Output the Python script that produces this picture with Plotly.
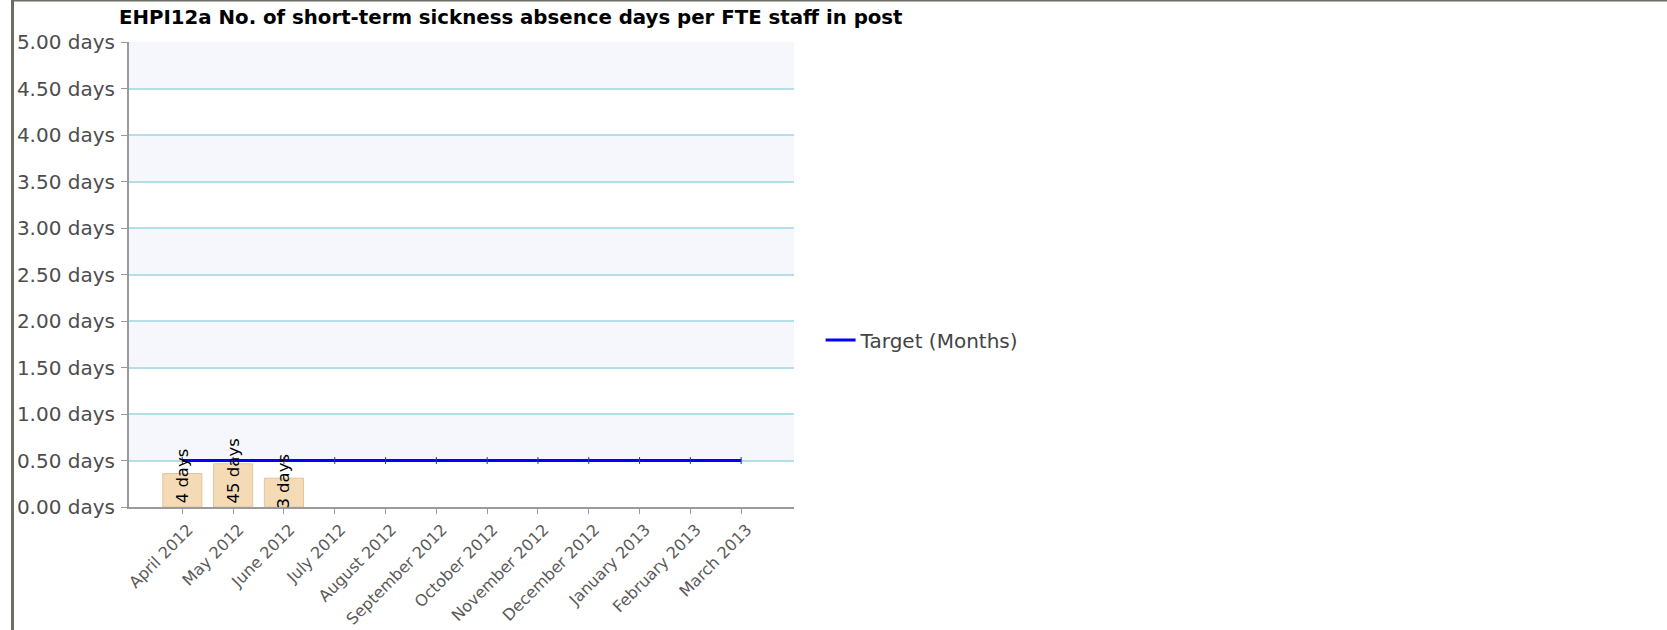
import plotly.graph_objects as go

months = ["April 2012", "May 2012", "June 2012", "July 2012", "August 2012",
          "September 2012", "October 2012", "November 2012", "December 2012",
          "January 2013", "February 2013", "March 2013"]
actual_days = [0.36, 0.465, 0.31, None, None, None, None, None, None, None, None, None]
actual_labels = ["4 days", "45 days", "3 days"]
target_days = [0.5] * 12
y_ticks = [0, 0.5, 1, 1.5, 2, 2.5, 3, 3.5, 4, 4.5, 5]
y_tick_text = ["%.2f days" % v for v in y_ticks]
title_text = "EHPI12a No. of short-term sickness absence days per FTE staff in post"

FONT = "DejaVu Sans"

fig = go.Figure()
fig.add_trace(go.Bar(
    x=months, y=actual_days, width=0.77,
    marker=dict(color="#f4dbb6", line=dict(color="#e3c69c", width=1)),
    showlegend=False, hoverinfo="x+y",
))
fig.add_trace(go.Scatter(
    x=months, y=target_days, mode="lines", name="Target (Months)",
    line=dict(color="#0000ff", width=3),
))
fig.add_trace(go.Scatter(
    x=months, y=target_days, mode="markers", showlegend=False, hoverinfo="skip",
    marker=dict(symbol="line-ns-open", size=5, color="#3030c0", line=dict(width=1, color="#3030c0")),
))

# alternating bands
shapes = []
for i in range(0, len(y_ticks) - 1):
    if i % 2 == 1:
        shapes.append(dict(type="rect", xref="paper", yref="y", x0=0, x1=1,
                           y0=y_ticks[i], y1=y_ticks[i + 1],
                           fillcolor="#f6f7fc", line=dict(width=0), layer="below"))
# frame borders
shapes.append(dict(type="line", xref="paper", yref="paper",
                   x0=(12.5 - 129) / 665, x1=(12.5 - 129) / 665, y0=-123 / 465, y1=(465 + 42) / 465,
                   line=dict(color="#6e6d62", width=3)))
shapes.append(dict(type="line", xref="paper", yref="paper",
                   x0=(11 - 129) / 665, x1=(1667 - 129) / 665, y0=(465 + 41.5) / 465, y1=(465 + 41.5) / 465,
                   line=dict(color="#6e6d62", width=2)))

annotations = []
for m, v, t in zip(months, actual_days, actual_labels):
    annotations.append(dict(x=m, y=v, xref="x", yref="y", text=t, textangle=-90,
                            showarrow=False, yanchor="top", yshift=27,
                            font=dict(family=FONT, size=16.5, color="#000000")))

fig.update_layout(
    width=1667, height=630,
    margin=dict(l=129, r=873, t=42, b=123, autoexpand=False),
    paper_bgcolor="#ffffff", plot_bgcolor="#ffffff",
    font=dict(family=FONT, size=18, color="#555555"),
    title=dict(text="<b>" + title_text + "</b>", xref="container", x=119 / 1667, xanchor="left",
               yref="container", y=1 - 17 / 630, yanchor="middle",
               font=dict(family=FONT, size=19.75, color="#000000")),
    xaxis=dict(type="category", range=[-1.05, 12.04], tickangle=-45, automargin=False,
               showgrid=False, showline=True, linecolor="#9a9a9a", linewidth=2,
               ticks="outside", ticklen=5, tickcolor="#9a9a9a", ticklabelshift=6,
               tickfont=dict(family=FONT, size=16, color="#5a5a5a")),
    yaxis=dict(range=[0, 5], tickvals=y_ticks, ticktext=y_tick_text, automargin=False,
               showgrid=True, gridcolor="#b4dfe8", gridwidth=1.5,
               showline=True, linecolor="#9a9a9a", linewidth=2,
               ticks="outside", ticklen=6, tickcolor="#9a9a9a",
               ticklabelstandoff=2, zeroline=False,
               tickfont=dict(family=FONT, size=20, color="#4d4d4d")),
    legend=dict(x=1.04, y=0.359, xanchor="left", yanchor="middle",
                font=dict(family=FONT, size=20, color="#444444"),
                bgcolor="rgba(0,0,0,0)", itemwidth=30),
    shapes=shapes, annotations=annotations,
    bargap=0.23,
)

fig.write_html("out.html", config={"displayModeBar": False},
               post_script="document.body.style.margin='0px';")
